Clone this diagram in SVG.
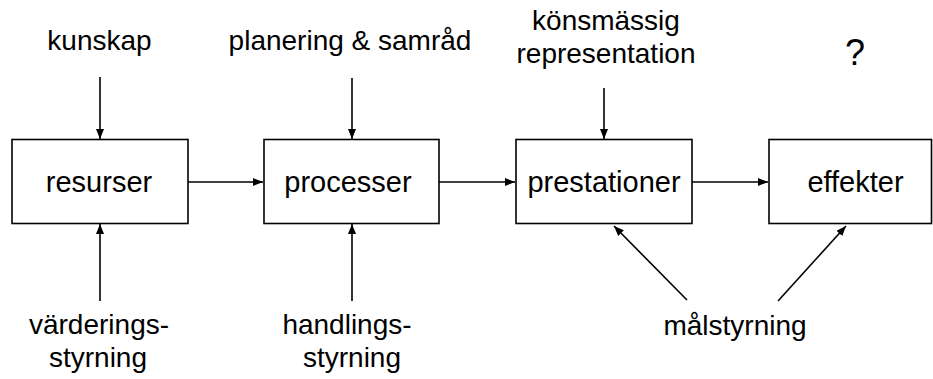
<svg xmlns="http://www.w3.org/2000/svg" width="933" height="379" viewBox="0 0 933 379">
<style>
  .box { fill: #ffffff; stroke: #000000; stroke-width: 1.6; }
  .t { font-family: "Liberation Sans", Arial, sans-serif; font-size: 28px; fill: #000000; text-anchor: middle; }
  .b { font-size: 29px; }
  .q { font-size: 36px; }
  .c { stroke: #000000; stroke-width: 1.6; fill: none; marker-end: url(#ah); }
</style>
<defs>
  <marker id="ah" markerWidth="10" markerHeight="8" refX="10" refY="4" orient="auto" markerUnits="userSpaceOnUse">
    <path d="M0,0 L10,4 L0,8 Z" fill="#000000"/>
  </marker>
</defs>
<rect width="933" height="379" fill="#ffffff"/>
<g id="connectors">
  <line class="c" x1="188" y1="182" x2="263" y2="182"/>
  <line class="c" x1="439" y1="182" x2="515" y2="182"/>
  <line class="c" x1="692" y1="182" x2="768" y2="182"/>
  <line class="c" x1="100" y1="77" x2="100" y2="139"/>
  <line class="c" x1="352" y1="78" x2="352" y2="139"/>
  <line class="c" x1="604" y1="88" x2="604" y2="139"/>
  <line class="c" x1="100" y1="301" x2="100" y2="224"/>
  <line class="c" x1="352" y1="301" x2="352" y2="224"/>
  <line class="c" x1="687" y1="300" x2="614" y2="226"/>
  <line class="c" x1="778" y1="301" x2="846" y2="226"/>
</g>
<g id="resurser">
  <rect class="box" x="12" y="139.5" width="176" height="84"/>
  <text class="t b" x="99" y="192">resurser</text>
</g>
<g id="processer">
  <rect class="box" x="264" y="139.5" width="175" height="84"/>
  <text class="t b" x="348" y="192">processer</text>
</g>
<g id="prestationer">
  <rect class="box" x="516" y="139.5" width="176" height="84"/>
  <text class="t b" x="604" y="192">prestationer</text>
</g>
<g id="effekter">
  <rect class="box" x="769" y="139.5" width="162.5" height="84"/>
  <text class="t b" x="855.5" y="192">effekter</text>
</g>
<g id="kunskap">
  <text class="t" x="99.5" y="50">kunskap</text>
</g>
<g id="planering">
  <text class="t" x="350" y="50">planering &amp; samråd</text>
</g>
<g id="konsmassig">
  <text class="t" x="606" y="30">könsmässig</text>
  <text class="t" x="606" y="63">representation</text>
</g>
<g id="fraga">
  <text class="t q" x="855" y="65">?</text>
</g>
<g id="varderingsstyrning">
  <text class="t" x="99" y="334">värderings-</text>
  <text class="t" x="98" y="367">styrning</text>
</g>
<g id="handlingsstyrning">
  <text class="t" x="347" y="334">handlings-</text>
  <text class="t" x="352" y="367">styrning</text>
</g>
<g id="malstyrning">
  <text class="t" x="735" y="335">målstyrning</text>
</g>
</svg>
